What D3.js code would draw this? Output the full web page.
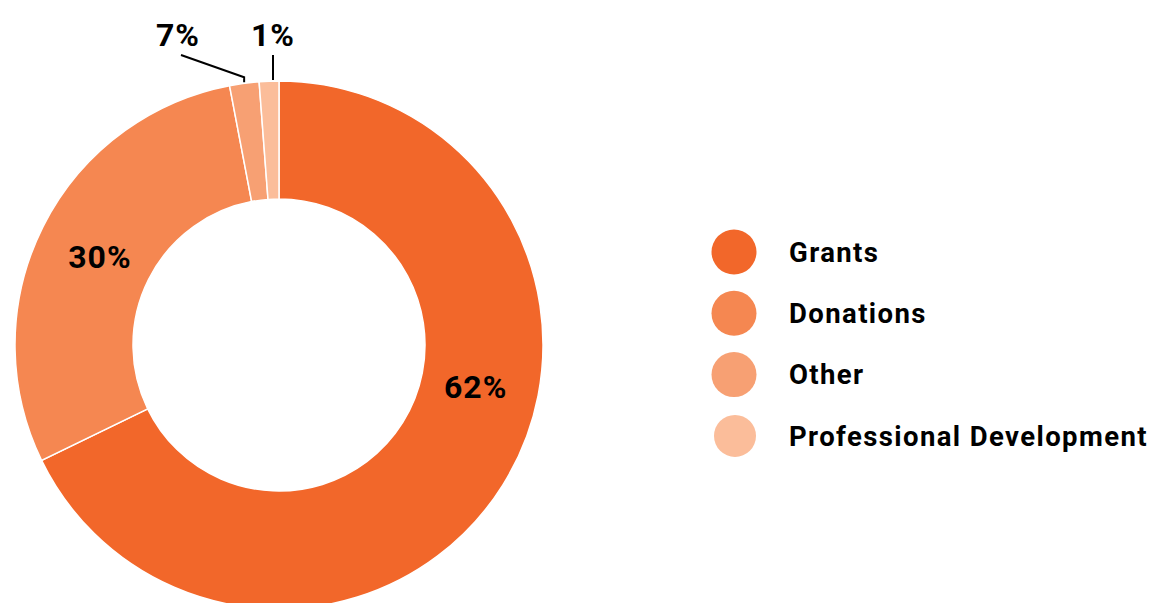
<!DOCTYPE html>
<html>
<head>
<meta charset="utf-8">
<script src="https://cdn.jsdelivr.net/npm/d3@7"></script>
<style>
  body { margin: 0; background: #fff; }
  text { font-family: Roboto, "Noto Sans", sans-serif; font-weight: 700; fill: #000; }
</style>
</head>
<body>
<div id="chart"></div>
<script>
// data
var categories = ["Grants", "Donations", "Other", "Professional Development"];
var values = [67.8, 29.2, 1.8, 1.2];
var pct_labels = ["62%", "30%", "7%", "1%"];
var colors = ["#f2672a", "#f58751", "#f7a073", "#fbbd9a"];

var width = 1154, height = 603,
    cx = 279, cy = 345,
    outer = 264, inner = 146;

var svg = d3.select("#chart").append("svg")
    .attr("width", width)
    .attr("height", height);

var color = d3.scaleOrdinal()
    .domain(categories)
    .range(colors);

var pie = d3.pie()
    .sort(null)
    .value(function (d) { return d.value; });

var arc = d3.arc()
    .outerRadius(outer)
    .innerRadius(inner);

var rows = categories.map(function (c, i) {
    return { name: c, value: values[i], label: pct_labels[i] };
});
var arcs = pie(rows);

var g = svg.append("g")
    .attr("transform", "translate(" + cx + "," + cy + ")");

g.selectAll("path")
    .data(arcs)
    .enter().append("path")
    .attr("d", arc)
    .style("fill", function (d) { return color(d.data.name); })
    .style("stroke", "#fff")
    .style("stroke-width", 1.5);

// labels inside the ring (angle in degrees, radius)
var inside = { "Grants": [102, 201], "Donations": [296.4, 200] };
g.selectAll(".inlabel")
    .data(arcs.filter(function (d) { return inside[d.data.name]; }))
    .enter().append("text")
    .attr("class", "inlabel")
    .attr("x", function (d) { var a = inside[d.data.name]; return a[1] * Math.sin(a[0] * Math.PI / 180); })
    .attr("y", function (d) { var a = inside[d.data.name]; return -a[1] * Math.cos(a[0] * Math.PI / 180); })
    .attr("dy", "0.36em")
    .attr("text-anchor", "middle")
    .attr("font-size", 32)
    .style("letter-spacing", "1px")
    .text(function (d) { return d.data.label; });

// small slices: labels above with leader lines
var outside = {
    "Other": { lx: -98, ly: -290, tx: -101, vertical: false },
    "Professional Development": { lx: -6, ly: -290, tx: -6, vertical: true }
};
var small = arcs.filter(function (d) { return outside[d.data.name]; });

g.selectAll(".leader")
    .data(small)
    .enter().append("polyline")
    .attr("class", "leader")
    .attr("points", function (d) {
        var o = outside[d.data.name], pts;
        if (o.vertical) {
            var py = -Math.sqrt((outer + 1) * (outer + 1) - o.lx * o.lx);
            pts = [[o.lx, py], [o.lx, o.ly]];
        } else {
            var m = (d.startAngle + d.endAngle) / 2,
                px = (outer + 1) * Math.sin(m),
                py2 = -(outer + 1) * Math.cos(m);
            pts = [[px, py2], [px, py2 - 5], [o.lx, o.ly]];
        }
        return pts.map(function (p) { return p.join(","); }).join(" ");
    })
    .style("fill", "none")
    .style("stroke", "#000")
    .style("stroke-width", 2);

g.selectAll(".outlabel")
    .data(small)
    .enter().append("text")
    .attr("class", "outlabel")
    .attr("x", function (d) { return outside[d.data.name].tx; })
    .attr("y", -299)
    .attr("text-anchor", "middle")
    .attr("font-size", 32)
    .style("letter-spacing", "1px")
    .text(function (d) { return d.data.label; });

// legend
var legend = svg.append("g")
    .attr("transform", "translate(734,252)");

var item = legend.selectAll(".item")
    .data(categories)
    .enter().append("g")
    .attr("transform", function (d, i) { return "translate(0," + (i * 61.3) + ")"; });

item.append("circle")
    .attr("r", function (d, i) { return i === 3 ? 21 : 22.5; })
    .attr("cx", function (d, i) { return i === 3 ? 1 : 0; })
    .style("fill", function (d) { return color(d); });

item.append("text")
    .attr("x", 55)
    .attr("dy", "0.35em")
    .attr("font-size", 27.5)
    .style("letter-spacing", "1.4px")
    .text(function (d) { return d; });
</script>
</body>
</html>
